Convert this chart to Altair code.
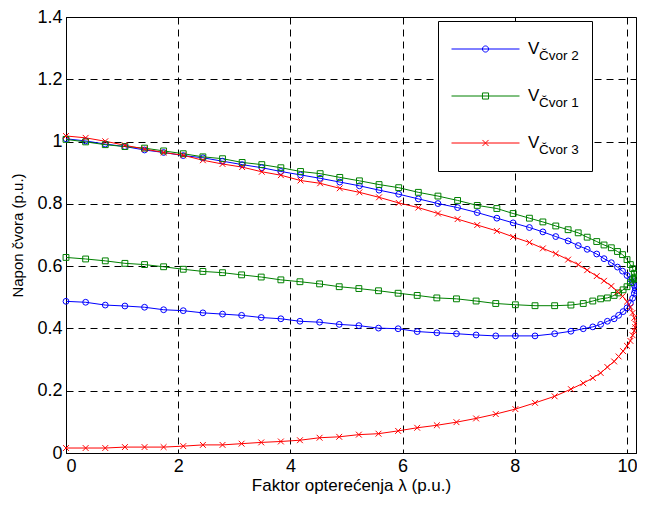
import altair as alt
import pandas as pd

FONT = "Liberation Sans"

series = ["Čvor 2", "Čvor 1", "Čvor 3"]
colors = ["#0000ff", "#008000", "#ff0000"]

# load factor along the upper branch (ending at the nose) and along the lower branch (ascending)
lam_upper = [0, 0.35, 0.70, 1.05, 1.40, 1.74, 2.09, 2.44, 2.79, 3.14,
             3.49, 3.83, 4.18, 4.53, 4.88, 5.23, 5.58, 5.93, 6.28, 6.63,
             6.98, 7.33, 7.68, 7.97, 8.26, 8.50, 8.73, 8.95, 9.13, 9.29,
             9.46, 9.59, 9.72, 9.83, 9.92, 10.00, 10.06, 10.10, 10.13, 10.15]
lam_lower = [0, 0.35, 0.70, 1.05, 1.40, 1.74, 2.09, 2.44, 2.79, 3.13,
             3.48, 3.83, 4.17, 4.52, 4.87, 5.22, 5.57, 5.92, 6.26, 6.61,
             6.96, 7.31, 7.66, 8.01, 8.36, 8.71, 9.00, 9.22, 9.39, 9.53,
             9.65, 9.77, 9.85, 9.93, 10.00, 10.06, 10.10, 10.13, 10.145]

v2_upper = [1.009, 1.002, 0.992, 0.984, 0.973, 0.965, 0.955, 0.948, 0.937, 0.926,
            0.916, 0.904, 0.893, 0.882, 0.870, 0.858, 0.844, 0.831, 0.816, 0.801,
            0.788, 0.772, 0.754, 0.739, 0.724, 0.710, 0.695, 0.681, 0.666, 0.654,
            0.639, 0.624, 0.611, 0.597, 0.584, 0.570, 0.558, 0.548, 0.538, 0.530]
v2_lower = [0.487, 0.484, 0.475, 0.472, 0.468, 0.460, 0.457, 0.450, 0.446, 0.442,
            0.435, 0.431, 0.423, 0.420, 0.413, 0.409, 0.401, 0.399, 0.390, 0.386,
            0.383, 0.379, 0.376, 0.376, 0.376, 0.383, 0.391, 0.399, 0.405, 0.413,
            0.423, 0.431, 0.442, 0.454, 0.466, 0.481, 0.497, 0.513, 0.522]

v1_upper = [1.007, 0.999, 0.990, 0.984, 0.979, 0.970, 0.961, 0.951, 0.945, 0.933,
            0.926, 0.916, 0.904, 0.897, 0.885, 0.874, 0.862, 0.852, 0.837, 0.825,
            0.811, 0.795, 0.785, 0.769, 0.754, 0.742, 0.729, 0.717, 0.707, 0.693,
            0.679, 0.668, 0.659, 0.647, 0.637, 0.621, 0.605, 0.592, 0.577, 0.565]
v1_lower = [0.628, 0.623, 0.617, 0.609, 0.605, 0.598, 0.590, 0.583, 0.579, 0.572,
            0.565, 0.556, 0.550, 0.543, 0.534, 0.528, 0.521, 0.513, 0.506, 0.498,
            0.495, 0.488, 0.480, 0.476, 0.473, 0.473, 0.475, 0.480, 0.488, 0.495,
            0.498, 0.506, 0.514, 0.524, 0.534, 0.547, 0.556, 0.560, 0.562]

v3_upper = [1.018, 1.012, 1.001, 0.988, 0.976, 0.965, 0.956, 0.940, 0.928, 0.918,
            0.903, 0.892, 0.875, 0.866, 0.850, 0.837, 0.821, 0.803, 0.788, 0.769,
            0.751, 0.732, 0.713, 0.694, 0.676, 0.657, 0.640, 0.621, 0.605, 0.587,
            0.568, 0.553, 0.536, 0.518, 0.503, 0.486, 0.469, 0.450, 0.434, 0.415]
v3_lower = [0.016, 0.016, 0.016, 0.019, 0.019, 0.019, 0.022, 0.026, 0.026, 0.030,
            0.034, 0.037, 0.041, 0.049, 0.052, 0.059, 0.062, 0.071, 0.081, 0.089,
            0.099, 0.111, 0.125, 0.141, 0.161, 0.182, 0.205, 0.224, 0.241, 0.257,
            0.276, 0.294, 0.310, 0.327, 0.344, 0.360, 0.378, 0.392, 0.404]

x_ticks = [0, 2, 4, 6, 8, 10]
y_ticks = [0, 0.2, 0.4, 0.6, 0.8, 1, 1.2, 1.4]

voltages = {
    "Čvor 2": (v2_upper, v2_lower),
    "Čvor 1": (v1_upper, v1_lower),
    "Čvor 3": (v3_upper, v3_lower),
}

rows = []
for s in series:
    up, low = voltages[s]
    lam = lam_upper + lam_lower[::-1]
    vv = up + low[::-1]
    for i, (l, v) in enumerate(zip(lam, vv)):
        rows.append({"series": s, "lam": l, "v": v, "idx": i})
df = pd.DataFrame(rows)

xscale = alt.Scale(domain=[0, 10.16], nice=False, zero=False)
yscale = alt.Scale(domain=[0, 1.4], nice=False)

x_enc = alt.X("lam:Q", scale=xscale,
              axis=alt.Axis(values=x_ticks, format="d", title="Faktor opterećenja λ (p.u.)",
                            titleFontSize=17, labelFontSize=18, labelPadding=4, titlePadding=2))
y_enc = alt.Y("v:Q", scale=yscale,
              axis=alt.Axis(values=y_ticks, format="~g", title="Napon čvora (p.u.)",
                            titleFontSize=15, labelFontSize=18, labelPadding=4, titlePadding=11))

# legend symbols: a line segment with the marker in its middle
r = 0.09
seg = "M-1,0L1,0"
circ = f"M{r},0A{r},{r} 0 1,1 {-r},0A{r},{r} 0 1,1 {r},0"
sq = f"M{-r},{-r}L{r},{-r}L{r},{r}L{-r},{r}Z"
xx = f"M{-r},{-r}L{r},{r}M{-r},{r}L{r},{-r}"
legend_shapes = [seg + circ, seg + sq, seg + xx]
marker_shapes = ["circle", "square", "M-1,-1L1,1M-1,1L1,-1"]

leg_v = alt.Legend(
    orient="none", legendX=385, legendY=17, title=None, direction="vertical",
    labelExpr="'V'", labelFont=FONT, labelFontSize=17, labelColor="black",
    labelBaseline="middle",
    symbolSize=4624, symbolStrokeWidth=1, symbolOpacity=1,
    symbolFillColor="transparent",
    labelOffset=8, rowPadding=17, padding=0, clipHeight=30, zindex=2,
)

leg_sub = alt.Legend(
    orient="none", legendX=372, legendY=4, title=None, direction="vertical",
    labelExpr="datum.label + '        '", labelFont=FONT, labelFontSize=13.5,
    labelColor="black", labelBaseline="top",
    symbolSize=900, symbolOpacity=0, symbolStrokeWidth=0,
    labelOffset=58, rowPadding=17, padding=13, clipHeight=30,
    strokeColor="black", fillColor="white", zindex=1,
)

lines = alt.Chart(df).mark_line(strokeWidth=1).encode(
    x=x_enc, y=y_enc,
    color=alt.Color("series:N", scale=alt.Scale(domain=series, range=colors), legend=None),
    order="idx:Q",
)

points = alt.Chart(df).mark_point(filled=False, size=34, strokeWidth=1, opacity=1).encode(
    x=x_enc, y=y_enc,
    stroke=alt.Stroke("series:N", scale=alt.Scale(domain=series, range=colors), legend=None),
    shape=alt.Shape("series:N", scale=alt.Scale(domain=series, range=marker_shapes),
                    legend=leg_sub),
)

legend_layer = alt.Chart(df).mark_point(filled=False, strokeWidth=1, opacity=0).encode(
    x=x_enc, y=y_enc,
    color=alt.Color("series:N", scale=alt.Scale(domain=series, range=colors), legend=leg_v),
    shape=alt.Shape("series:N", scale=alt.Scale(domain=series, range=legend_shapes),
                    legend=leg_v),
)

chart = alt.layer(lines, points, legend_layer).resolve_scale(
    color="independent", shape="independent", stroke="independent"
).properties(
    width=570, height=436,
    padding={"left": 58, "top": 9, "right": 1, "bottom": 41},
    autosize=alt.AutoSizeParams(type="none"),
).configure(font=FONT).configure_view(
    stroke="black", strokeWidth=1
).configure_axis(
    labelFont=FONT, titleFont=FONT, labelColor="black", titleColor="black",
    titleFontWeight="normal", domainColor="black", domainWidth=1,
    ticks=False, grid=True, gridColor="black", gridDash=[7, 5], gridWidth=1,
    gridOpacity=1,
)

chart.save("out.html", embed_options={"renderer": "svg", "actions": False})
